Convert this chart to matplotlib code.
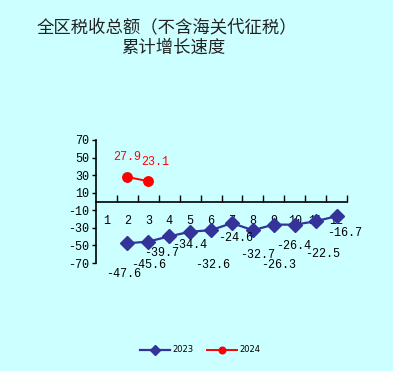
import matplotlib
matplotlib.use("Agg")
import matplotlib.pyplot as plt
from matplotlib.ticker import FixedLocator, NullFormatter

# ---- data -------------------------------------------------------------------
months = [1, 2, 3, 4, 5, 6, 7, 8, 9, 10, 11, 12]
months_2023 = [2, 3, 4, 5, 6, 7, 8, 9, 10, 11, 12]
growth_2023 = [-47.6, -45.6, -39.7, -34.4, -32.6, -24.6, -32.7, -26.3, -26.4, -22.5, -16.7]
months_2024 = [2, 3]
growth_2024 = [27.9, 23.1]
yticks = [-70, -50, -30, -10, 10, 30, 50, 70]

# label offsets in pixels (dx, dy) relative to each point
off_2023 = [(-4, -31), (0, -23), (-8, -17), (0, -13), (2, -35), (4, -15),
            (5, -25), (5, -40), (-1, -21), (7, -33), (8, -17)]
off_2024 = [(0, 20), (7, 19)]

BG = "#CCFFFF"
NAVY = "#333399"
RED = "#FF0000"
NUMFONT = "Liberation Mono"

fig = plt.figure(figsize=(3.93, 3.71), dpi=100, facecolor=BG)
ax = fig.add_axes([96 / 393, 1 - 263 / 371, 251 / 393, 123 / 371])
ax.set_facecolor(BG)

ax.plot(months_2023, growth_2023, color=NAVY, lw=1.6, marker="D", ms=6.8,
        mfc=NAVY, mec=NAVY, label="2023", zorder=3)
ax.plot(months_2024, growth_2024, color=RED, lw=1.4, marker="o", ms=6.8,
        mfc=RED, mec=RED, label="2024", zorder=3)

for x, y, (dx, dy) in zip(months_2023, growth_2023, off_2023):
    ax.annotate(f"{y}", (x, y), xytext=(dx * 0.72, dy * 0.72), textcoords="offset points",
                ha="center", va="center", fontsize=8.5, family=NUMFONT, color="black")
for x, y, (dx, dy) in zip(months_2024, growth_2024, off_2024):
    ax.annotate(f"{y}", (x, y), xytext=(dx * 0.72, dy * 0.72), textcoords="offset points",
                ha="center", va="center", fontsize=8.5, family=NUMFONT, color=RED)

ax.set_xlim(0.5, 12.5)
ax.set_ylim(-70, 70)

# spines: y axis on left, x axis through zero
for s in ["top", "right"]:
    ax.spines[s].set_visible(False)
ax.spines["bottom"].set_position(("data", 0))
ax.spines["bottom"].set_linewidth(1.2)
ax.spines["left"].set_linewidth(1.2)

ax.set_yticks(yticks)
ax.set_yticklabels([str(v) for v in yticks], family=NUMFONT, fontsize=8.5)
ax.tick_params(axis="y", direction="out", length=3, width=1, pad=2)

ax.xaxis.set_major_locator(FixedLocator(months))
ax.xaxis.set_minor_locator(FixedLocator([m + 0.5 for m in months]))
ax.xaxis.set_minor_formatter(NullFormatter())
ax.set_xticklabels([str(m) for m in months], family=NUMFONT, fontsize=8.5)
ax.tick_params(axis="x", which="major", length=0, pad=10)
ax.tick_params(axis="x", which="minor", direction="in", length=5, width=1)

fig.text(167 / 393, 1 - 27 / 371, "全区税收总额（不含海关代征税）", ha="center", va="center",
         fontsize=12.5, family=["Noto Sans CJK SC", "DejaVu Sans"], color="#222222")
fig.text(173 / 393, 1 - 48 / 371, "累计增长速度", ha="center", va="center",
         fontsize=12.5, family=["Noto Sans CJK SC", "DejaVu Sans"], color="#222222")

leg = fig.legend(loc="center", bbox_to_anchor=(200 / 393, 1 - 350 / 371), ncol=2,
                 frameon=False, fontsize=6, handlelength=3.6, columnspacing=1.6,
                 handletextpad=0.3, markerscale=0.7)

fig.savefig("out.png", dpi=100, facecolor=BG)
